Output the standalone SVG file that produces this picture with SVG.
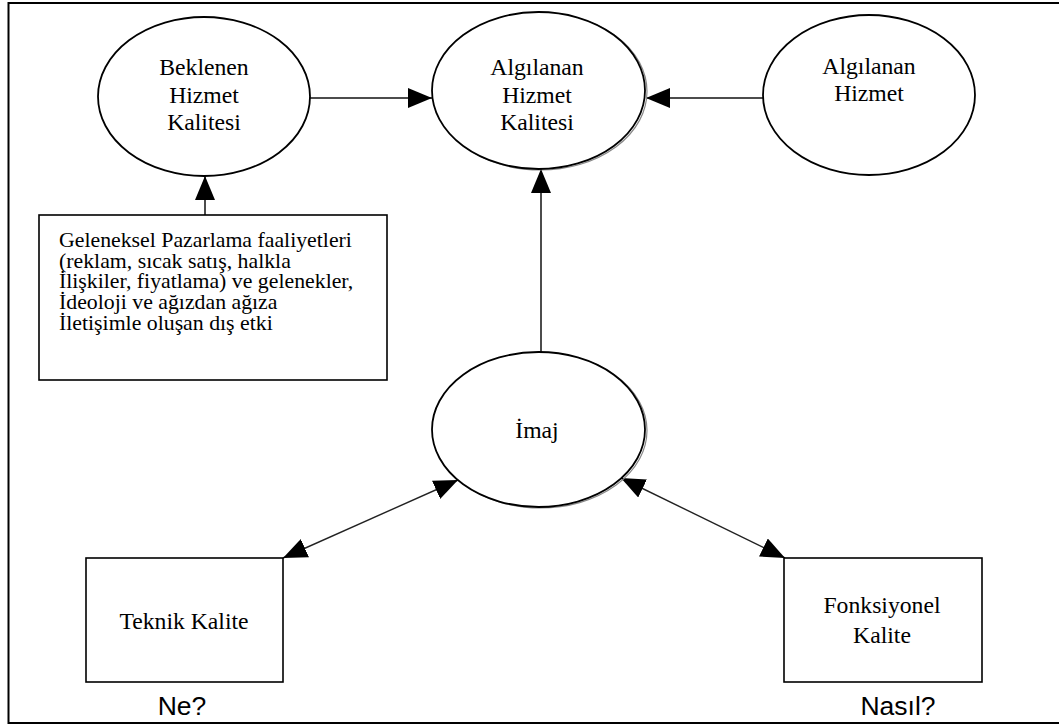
<svg xmlns="http://www.w3.org/2000/svg" width="1059" height="726" viewBox="0 0 1059 726">
<style>
.frame{fill:none;stroke:#000;stroke-width:2}
.ell{fill:#fff;stroke:#000;stroke-width:1.8}
.shadow{fill:none;stroke:#888;stroke-width:1.2}
.box{fill:#fff;stroke:#000;stroke-width:1.6}
.lbl{font-family:"Liberation Serif","Times New Roman",serif;font-size:23.7px;fill:#000;text-anchor:middle}
.txt{font-family:"Liberation Serif","Times New Roman",serif;font-size:21.8px;fill:#000}
.q{font-family:"Liberation Sans",Arial,sans-serif;font-size:26.5px;fill:#000;text-anchor:middle}
.con{fill:none;stroke:#111;stroke-width:1.5}
.dcon{fill:none;stroke:#222;stroke-width:1.4}
</style>
<defs>
<marker id="ah" markerUnits="userSpaceOnUse" markerWidth="24" markerHeight="20" viewBox="0 0 24 20" refX="24" refY="10" orient="auto-start-reverse">
<path d="M0,0 L24,10 L0,20 z" fill="#000"/>
</marker>
</defs>
<rect x="0" y="0" width="1059" height="726" fill="#fff"/>
<path class="frame" d="M1059,3 L8.5,3 L8.5,723 L1059,723"/>
<g id="connectors">
<line class="con" x1="310" y1="98" x2="432" y2="98" marker-end="url(#ah)"/>
<line class="con" x1="763" y1="98" x2="646" y2="98" marker-end="url(#ah)"/>
<line class="con" x1="205" y1="215" x2="205" y2="176" marker-end="url(#ah)"/>
<line class="con" x1="541" y1="352" x2="541" y2="169" marker-end="url(#ah)"/>
<line class="dcon" x1="283" y1="558" x2="458" y2="480" marker-start="url(#ah)" marker-end="url(#ah)"/>
<line class="dcon" x1="785" y1="558" x2="621" y2="478" marker-start="url(#ah)" marker-end="url(#ah)"/>
</g>
<g id="beklenen">
<ellipse class="ell" cx="204" cy="96.5" rx="106" ry="79.5"/>
<text class="lbl" x="204" y="75">Beklenen</text>
<text class="lbl" x="204" y="102.5">Hizmet</text>
<text class="lbl" x="204" y="130">Kalitesi</text>
</g>
<g id="algilanan-kalite">
<ellipse class="shadow" cx="540.5" cy="91.5" rx="106.5" ry="78.5"/>
<ellipse class="ell" cx="538.5" cy="90.5" rx="106.5" ry="78.5"/>
<text class="lbl" x="537" y="75">Algılanan</text>
<text class="lbl" x="537" y="102.5">Hizmet</text>
<text class="lbl" x="537" y="130">Kalitesi</text>
</g>
<g id="algilanan-hizmet">
<ellipse class="ell" cx="869" cy="95" rx="106" ry="80"/>
<text class="lbl" x="869" y="74">Algılanan</text>
<text class="lbl" x="869" y="101">Hizmet</text>
</g>
<g id="dis-etki">
<rect class="box" x="39" y="215" width="348" height="165"/>
<text class="txt" x="59" y="247"><tspan x="59" y="247">Geleneksel Pazarlama faaliyetleri</tspan><tspan x="59" y="267.7">(reklam, sıcak satış, halkla</tspan><tspan x="59" y="288.4">İlişkiler, fiyatlama) ve gelenekler,</tspan><tspan x="59" y="309.1">İdeoloji ve ağızdan ağıza</tspan><tspan x="59" y="329.8">İletişimle oluşan dış etki</tspan></text>
</g>
<g id="imaj">
<ellipse class="shadow" cx="540.5" cy="430.5" rx="106.5" ry="77.5"/>
<ellipse class="ell" cx="538.5" cy="429.5" rx="106.5" ry="77.5"/>
<text class="lbl" x="537" y="438">İmaj</text>
</g>
<g id="teknik">
<rect class="box" x="86" y="558" width="197" height="124"/>
<text class="lbl" x="184" y="629">Teknik Kalite</text>
</g>
<g id="fonksiyonel">
<rect class="box" x="784" y="558" width="198" height="124"/>
<text class="lbl" x="882" y="613">Fonksiyonel</text>
<text class="lbl" x="882" y="643">Kalite</text>
</g>
<text class="q" x="182" y="715">Ne?</text>
<text class="q" x="898" y="715">Nasıl?</text>
</svg>
